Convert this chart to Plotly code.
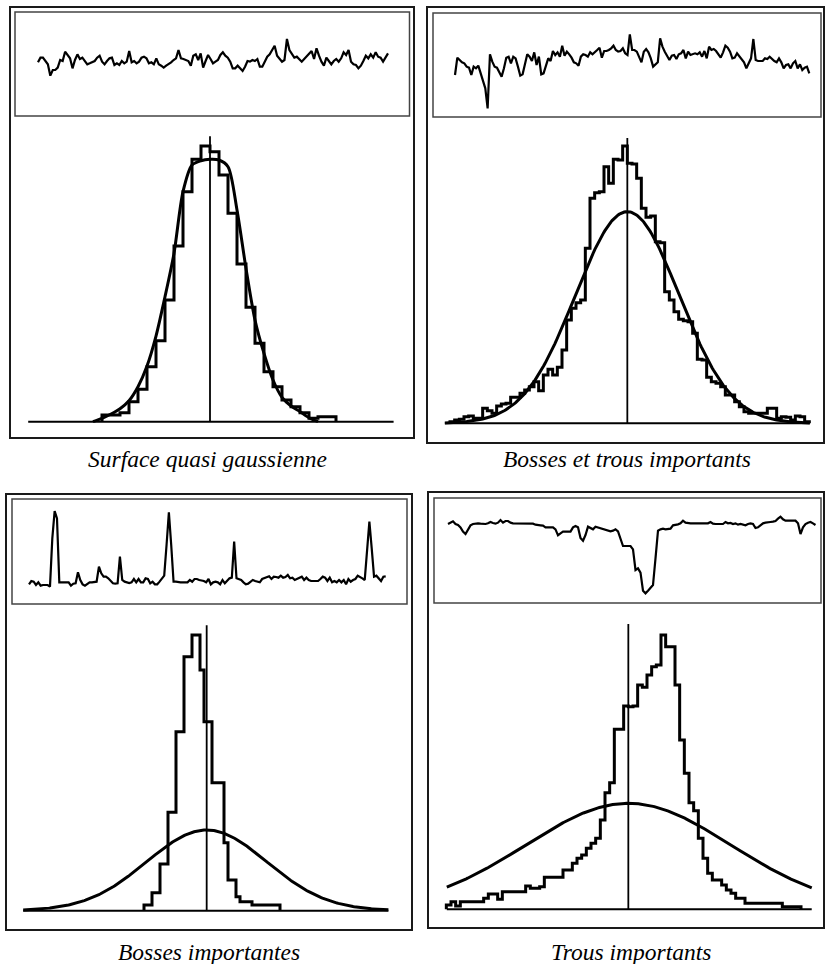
import numpy as np
import plotly.graph_objects as go

W, H = 825, 964

# ---------------- data ----------------
# Surface profiles (heights, arbitrary units), evenly sampled along the trace
profile_1 = [68,82,82,70,62,28,45,45,52,75, 72,100,88,80,50,75,92,78,82,72,
             62,65,68,72,82,88,70,62,72,80, 82,60,65,60,72,65,70,102,68,72,
             65,70,82,85,80,65,68,62,80,62, 58,52,58,62,68,75,80,105,80,78,
             75,72,58,88,92,75,95,52,72,90, 78,65,70,75,90,98,88,82,70,50,
             50,58,50,42,55,72,70,75,72,78, 55,55,70,85,92,105,118,88,78,70,
             75,138,105,95,82,85,78,70,78,85, 92,102,78,110,88,70,58,82,72,62,
             72,78,70,80,98,90,105,70,62,60, 50,58,72,88,80,92,82,98,85,82,
             70,82,95]
profile_2 = [120,172,165,158,155,145,142,120,145,140, 148,125,105,80,20,182,160,145,142,130,
             115,140,172,175,155,175,170,145,118,122, 150,182,175,162,188,150,175,122,125,145,
             170,162,192,180,188,175,208,178,190,182, 172,158,155,148,175,182,180,175,188,182,
             190,195,202,172,192,192,195,200,208,195, 190,192,200,185,180,242,195,195,190,172,
             158,190,198,188,170,145,152,158,230,205, 190,175,165,178,180,168,182,185,195,170,
             190,180,182,185,182,188,175,192,170,205, 195,198,192,182,172,188,208,202,190,170,
             172,185,175,165,158,140,158,170,228,165, 162,162,162,170,168,175,168,162,158,170,
             158,140,150,152,140,155,162,140,152,135, 142,145,125]
profile_3 = [17,27,25,15,23,13,15,15,15,10, 155,237,215,23,23,21,21,23,13,19,
             20,53,30,17,13,19,23,23,25,25, 70,50,40,40,35,27,20,19,20,100,
             30,25,22,21,23,33,23,33,23,23, 35,33,20,25,17,17,25,35,43,135,
             233,135,25,25,23,23,23,23,23,30, 25,33,33,30,29,27,23,33,17,23,
             25,23,17,30,20,27,35,37,145,35, 33,30,23,17,19,25,30,27,25,23,
             33,35,39,41,33,40,39,37,43,37, 39,45,35,37,30,33,37,40,30,37,
             30,27,27,27,27,33,40,37,27,37, 23,27,23,30,23,30,17,33,25,30,
             33,43,40,35,30,115,205,125,40,43, 35,27,40,41]
profile_4 = [228,231,236,228,225,218,205,198,210,224, 228,230,230,229,228,228,230,234,231,229,
             232,240,232,237,237,232,230,230,230,230, 230,230,230,230,229,226,224,224,223,218,
             218,218,218,212,194,200,205,205,205,205, 218,222,218,186,178,195,220,215,212,220,
             218,216,214,212,208,206,208,212,206,182, 162,162,162,162,152,90,95,82,28,20,
             28,38,45,125,208,212,214,212,212,214, 224,225,227,230,238,232,230,230,230,230,
             230,230,230,230,230,234,229,228,228,228, 228,234,230,231,228,230,226,228,225,224,
             228,230,228,216,218,224,230,232,232,234, 235,237,244,250,242,238,238,238,238,238,
             230,198,218,228,232,234,230,225]

# Height histograms (counts per class); classes of unit width starting at the given edge
hist_1 = [20,20,27,60,97,165,243,365,527,690,787,827,810,740,625,473,343,235,150,105,65,45,27,10,15,15]
hist_2 = [5,10,12,20,22,15,15,45,38,30,52,58,60,78,78,90,100,110,125,98,145,162,145,168,220,310,345,362,370,525,
          675,692,695,770,720,792,790,832,
          780,778,735,645,618,622,545,542,395,370,335,312,308,305,270,192,190,138,125,120,110,85,85,65,50,35,
          30,30,30,30,45,45,15,20,18,10,22,20,5]
hist_3 = [17,17,54,54,140,140,295,295,537,537,762,762,827,827,722,567,567,384,384,384,204,92,92,42,27,27,27,
          17,17,17,17,17,17,17]
hist_4 = [13,23,10,23,23,23,23,23,33,46,46,30,53,53,53,53,53,70,63,63,68,96,96,96,96,118,118,138,153,163,183,198,
          213,268,350,380,540,540,610,
          608,610,673,666,703,728,733,823,788,788,673,508,408,320,296,213,153,108,88,88,73,58,48,33,33,18,18,18,18,
          18,18,18,18,8,8,8,8]
hist_first_edge = [-12, -38, -16, -39]

# Smoothed density drawn over histogram 1, at class edges -13 .. 12
fit_1 = [0,10,23,39,63,105,167,257,375,505,690,770,783,787,785,765,635,460,305,205,125,73,47,30,12,0]
fit_1_first = -13

# Gaussian models for panels 2-4 (mean, sigma in class units; peak in counts)
gauss_mean = [None, 0.0, -0.33, 0.0]
gauss_sigma = [None, 11.1, 15.0, 22.0]
gauss_peak = [None, 635, 242, 318]

axis_extent = [(-20.2, 20.4), (-39.1, 39.1), (-46.2, 45.1), (-38.9, 39.3)]
mean_line = [0.0, 0.0, -0.33, 0.0]
mean_line_top = 856

captions = ["Surface quasi gaussienne", "Bosses et trous importants",
            "Bosses importantes", "Trous importants"]

profiles = [profile_1, profile_2, profile_3, profile_4]
hists = [hist_1, hist_2, hist_3, hist_4]

# ---------------- layout geometry (pixels) ----------------
geo = [
    dict(outer=(10, 7, 414, 438), inner=(15, 12, 409.5, 116), prof_x=(38, 388), prof_ref=(35, 150),
         origin=210.0, unit=9.0, base=421.7, cap=(207.5, 459)),
    dict(outer=(427, 7, 824, 443), inner=(433, 13, 821, 117), prof_x=(455, 809.3), prof_ref=(25, 270),
         origin=627.33, unit=14/3, base=423.33, cap=(627, 459)),
    dict(outer=(6, 494, 412, 930), inner=(12, 499, 407, 604), prof_x=(29, 385.7), prof_ref=(505, 255),
         origin=208.0, unit=4.0, base=910.67, cap=(209, 952)),
    dict(outer=(428, 492, 824, 928), inner=(434, 498, 821, 603), prof_x=(448, 815.5), prof_ref=(510, 270),
         origin=628.33, unit=14/3, base=909.33, cap=(631, 952)),
]
VPP = 3.0  # value units per pixel (vertical)

fig = go.Figure()
layout = dict(width=W, height=H, margin=dict(l=0, r=0, t=0, b=0),
              paper_bgcolor="white", plot_bgcolor="white", showlegend=False,
              shapes=[], annotations=[])

def px2paper_x(p):
    return p / W

def px2paper_y(p):
    return 1 - p / H

for i in range(4):
    g = geo[i]
    pa, ha = 2 * i + 1, 2 * i + 2
    # ----- profile axis -----
    prof = profiles[i]
    n = len(prof)
    L, T, R, B = g["inner"]
    x0, x1 = g["prof_x"]
    s = (x1 - x0) / (n - 1)
    xr = [(L - x0) / s, (n - 1) + (R - x1) / s]
    yref_px, yref_v = g["prof_ref"]
    yr = [yref_v + (yref_px - B) * VPP, yref_v + (yref_px - T) * VPP]
    ax_common = dict(visible=False, showgrid=False, zeroline=False, fixedrange=True)
    layout["xaxis%d" % pa if pa > 1 else "xaxis"] = dict(domain=[px2paper_x(L), px2paper_x(R)], range=xr,
                                                        anchor="y%d" % pa if pa > 1 else "y", **ax_common)
    layout["yaxis%d" % pa if pa > 1 else "yaxis"] = dict(domain=[px2paper_y(B), px2paper_y(T)], range=yr,
                                                        anchor="x%d" % pa if pa > 1 else "x", **ax_common)
    xa = "x%d" % pa if pa > 1 else "x"
    ya = "y%d" % pa if pa > 1 else "y"
    fig.add_trace(go.Scatter(x=list(range(n)), y=prof, mode="lines", xaxis=xa, yaxis=ya,
                             line=dict(color="black", width=2.2), hoverinfo="skip"))

    # ----- histogram axis -----
    oL, oT, oR, oB = g["outer"]
    hT = B
    hxr = [(oL - g["origin"]) / g["unit"], (oR - g["origin"]) / g["unit"]]
    hyr = [(g["base"] - oB) * VPP, (g["base"] - hT) * VPP]
    layout["xaxis%d" % ha] = dict(domain=[px2paper_x(oL), px2paper_x(oR)], range=hxr,
                                  anchor="y%d" % ha, **ax_common)
    layout["yaxis%d" % ha] = dict(domain=[px2paper_y(oB), px2paper_y(hT)], range=hyr,
                                  anchor="x%d" % ha, **ax_common)
    xa, ya = "x%d" % ha, "y%d" % ha

    lo, hi = axis_extent[i]
    # baseline
    fig.add_trace(go.Scatter(x=[lo, hi], y=[0, 0], mode="lines", xaxis=xa, yaxis=ya,
                             line=dict(color="black", width=2), hoverinfo="skip"))
    # mean line
    fig.add_trace(go.Scatter(x=[mean_line[i], mean_line[i]], y=[0, mean_line_top], mode="lines",
                             xaxis=xa, yaxis=ya, line=dict(color="black", width=1.8), hoverinfo="skip"))
    # histogram outline
    counts = hists[i]
    e0 = hist_first_edge[i]
    nb = len(counts)
    hx = [e0] + [e0 + k for k in range(nb)] + [e0 + nb]
    hy = [0] + list(counts) + [0]
    fig.add_trace(go.Scatter(x=hx, y=hy, mode="lines", line_shape="hv", xaxis=xa, yaxis=ya,
                             line=dict(color="black", width=3), hoverinfo="skip"))
    # model curve
    if i == 0:
        fx = [fit_1_first + k for k in range(len(fit_1))]
        fig.add_trace(go.Scatter(x=fx, y=fit_1, mode="lines", line_shape="spline",
                                 line=dict(color="black", width=3, smoothing=0.8),
                                 xaxis=xa, yaxis=ya, hoverinfo="skip"))
    else:
        gx = np.linspace(lo, hi, 300)
        gy = gauss_peak[i] * np.exp(-0.5 * ((gx - gauss_mean[i]) / gauss_sigma[i]) ** 2)
        fig.add_trace(go.Scatter(x=gx, y=gy, mode="lines", xaxis=xa, yaxis=ya,
                                 line=dict(color="black", width=3), hoverinfo="skip"))

    # ----- frames -----
    layout["shapes"].append(dict(type="rect", xref="paper", yref="paper",
                                 x0=px2paper_x(oL), x1=px2paper_x(oR),
                                 y0=px2paper_y(oB), y1=px2paper_y(oT),
                                 line=dict(color="#1a1a1a", width=2)))
    layout["shapes"].append(dict(type="rect", xref="paper", yref="paper",
                                 x0=px2paper_x(L), x1=px2paper_x(R),
                                 y0=px2paper_y(B), y1=px2paper_y(T),
                                 line=dict(color="#444444", width=1.5)))
    # ----- caption -----
    cx, cy = g["cap"]
    layout["annotations"].append(dict(text=captions[i], xref="paper", yref="paper",
                                      x=px2paper_x(cx), y=px2paper_y(cy),
                                      xanchor="center", yanchor="middle", showarrow=False,
                                      font=dict(family="Liberation Serif, Times New Roman, serif",
                                                size=23.5, color="black", style="italic")))

fig.update_layout(**layout)
fig.write_html("out.html", config={"displayModeBar": False, "staticPlot": True},
               post_script="document.body.style.margin='0';document.body.style.overflow='hidden';")
